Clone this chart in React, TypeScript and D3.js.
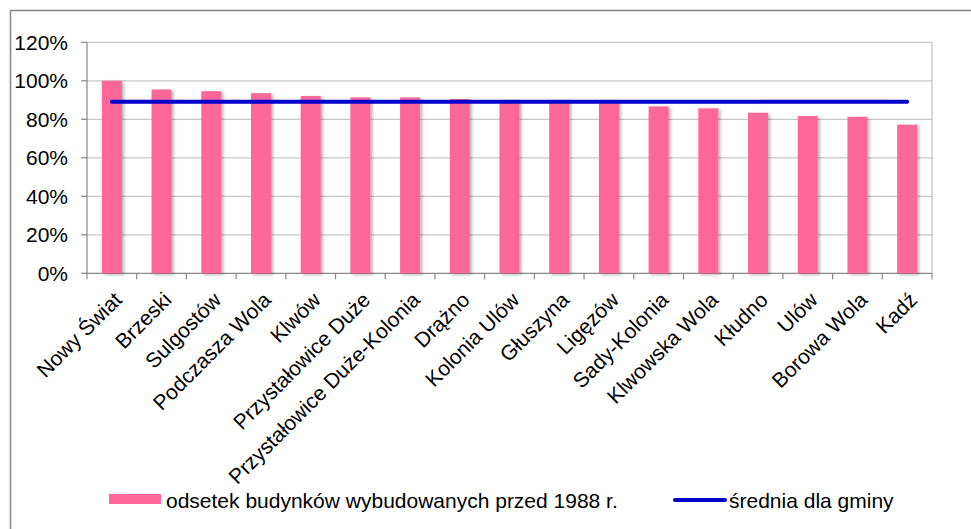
import React from "react";
import * as d3 from "d3";

const categories = [
  "Nowy Świat",
  "Brzeski",
  "Sulgostów",
  "Podczasza Wola",
  "Klwów",
  "Przystałowice Duże",
  "Przystałowice Duże-Kolonia",
  "Drążno",
  "Kolonia Ulów",
  "Głuszyna",
  "Ligęzów",
  "Sady-Kolonia",
  "Klwowska Wola",
  "Kłudno",
  "Ulów",
  "Borowa Wola",
  "Kadź",
];

// share of buildings built before 1988
const shares = [
  1.0, 0.955, 0.946, 0.936, 0.921, 0.914, 0.914, 0.905, 0.899, 0.896, 0.892,
  0.867, 0.857, 0.834, 0.817, 0.813, 0.772,
];

// municipality average, one value per village
const average = categories.map(() => 0.891);

const yTicks = [0, 0.2, 0.4, 0.6, 0.8, 1.0, 1.2];

const seriesNames = [
  "odsetek budynków wybudowanych przed 1988 r.",
  "średnia dla gminy",
];

const W = 971;
const H = 529;
const FONT = "'Liberation Sans', Arial, sans-serif";

export default function App() {
  const left = 87;
  const right = 932;
  const top = 42.3;
  const bottom = 273.3;

  const x = d3.scaleBand<string>().domain(categories).range([left, right]);
  const y = d3.scaleLinear().domain([0, 1.2]).range([bottom, top]);
  const barW = 20;
  const cx = (c: string) => (x(c) as number) + x.bandwidth() / 2;

  const line = d3
    .line<number>()
    .x((_, i) => cx(categories[i]))
    .y((d) => y(d));

  const fmt = d3.format(".0%");

  return (
    <svg
      width={W}
      height={H}
      style={{ position: "absolute", left: 0, top: 0, background: "#fff" }}
      fontFamily={FONT}
    >
      <defs>
        <filter id="shadow" x="-30%" y="-10%" width="160%" height="120%">
          <feDropShadow dx="2" dy="1.5" stdDeviation="1.5" floodColor="#000" floodOpacity="0.3" />
        </filter>
      </defs>

      {/* outer chart border */}
      <rect x={10.5} y={10.5} width={1000} height={600} fill="none" stroke="#8a8a8a" strokeWidth={1.6} />

      {/* gridlines */}
      {yTicks.map((t) => (
        <line
          key={`g${t}`}
          x1={left}
          x2={right}
          y1={y(t)}
          y2={y(t)}
          stroke={t === 0 ? "#868686" : "#c8c8c8"}
          strokeWidth={1.2}
        />
      ))}
      <line x1={right} x2={right} y1={top} y2={bottom} stroke="#c0c0c0" strokeWidth={1.2} />

      {/* y axis */}
      <line x1={left} x2={left} y1={top} y2={bottom + 0.5} stroke="#868686" strokeWidth={1.2} />
      {yTicks.map((t) => (
        <g key={`t${t}`}>
          <line x1={left - 6} x2={left} y1={y(t)} y2={y(t)} stroke="#868686" strokeWidth={1.2} />
          <text x={68} y={y(t)} dy="0.35em" textAnchor="end" fontSize={21} fill="#000">
            {fmt(t)}
          </text>
        </g>
      ))}

      {/* x axis ticks */}
      {categories.map((c) => (
        <line
          key={`xt${c}`}
          x1={x(c) as number}
          x2={x(c) as number}
          y1={bottom}
          y2={bottom + 6}
          stroke="#868686"
          strokeWidth={1.2}
        />
      ))}
      <line x1={right} x2={right} y1={bottom} y2={bottom + 6} stroke="#868686" strokeWidth={1.2} />

      {/* bars */}
      {shares.map((v, i) => (
        <rect
          key={`b${i}`}
          x={cx(categories[i]) - barW / 2}
          y={y(v)}
          width={barW}
          height={bottom - y(v)}
          fill="#ff6699"
          filter="url(#shadow)"
        />
      ))}

      {/* average line */}
      <path d={line(average) || ""} fill="none" stroke="#0000cc" strokeWidth={4} strokeLinecap="round" />

      {/* category labels */}
      {categories.map((c) => (
        <text
          key={`l${c}`}
          transform={`translate(${cx(c) + 6},${296}) rotate(-45)`}
          textAnchor="end"
          dy="0.35em"
          fontSize={21}
          fill="#000"
        >
          {c}
        </text>
      ))}

      {/* legend */}
      <rect x={109} y={494} width={52} height={10} fill="#ff6699" />
      <text x={166} y={508} fontSize={21} fill="#000">
        {seriesNames[0]}
      </text>
      <line x1={675} x2={725} y1={500} y2={500} stroke="#0000cc" strokeWidth={4} strokeLinecap="round" />
      <text x={729} y={508} fontSize={21} fill="#000">
        {seriesNames[1]}
      </text>
    </svg>
  );
}
